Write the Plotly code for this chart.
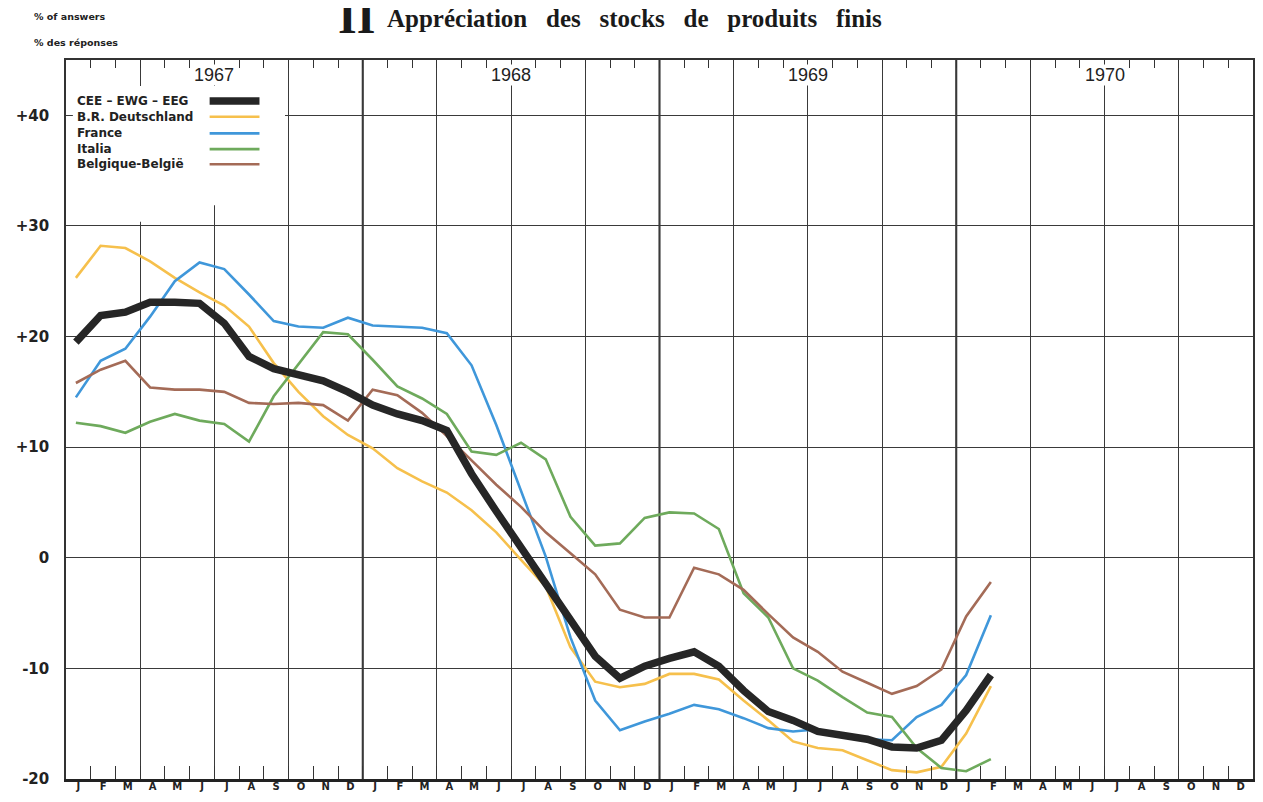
import plotly.graph_objects as go

# ---------------- data (monthly, Jan 1967 .. Feb 1970) ----------------
month_letters = ['J', 'F', 'M', 'A', 'M', 'J', 'J', 'A', 'S', 'O', 'N', 'D'] * 4
year_labels = ['1967', '1968', '1969', '1970']
y_ticks = [-20, -10, 0, 10, 20, 30, 40]
y_tick_labels = ['-20', '-10', '0', '+10', '+20', '+30', '+40']

cee = [19.5, 21.9, 22.2, 23.1, 23.1, 23.0, 21.2, 18.2, 17.1, 16.5, 16.0, 15.0,
       13.8, 13.0, 12.4, 11.5, 7.6, 4.2, 0.9, -2.5, -5.7, -8.9, -10.9, -9.8,
       -9.1, -8.5, -9.8, -12.0, -13.9, -14.7, -15.7, -16.1, -16.4, -17.1, -17.2, -16.5,
       -13.8, -10.6]
deu = [25.3, 28.2, 28.0, 26.8, 25.3, 24.0, 22.8, 20.9, 17.6, 15.0, 12.8, 11.1,
       9.9, 8.1, 6.9, 5.9, 4.3, 2.3, -0.2, -2.6, -8.1, -11.2, -11.7, -11.4,
       -10.5, -10.5, -11.0, -12.9, -14.7, -16.6, -17.2, -17.4, -18.3, -19.2, -19.4, -18.9,
       -15.9, -11.6]
fra = [14.5, 17.8, 18.9, 21.8, 25.0, 26.7, 26.1, 23.8, 21.4, 20.9, 20.8, 21.7,
       21.0, 20.9, 20.8, 20.3, 17.4, 12.0, 6.1, 0.1, -7.2, -12.9, -15.6, -14.8,
       -14.1, -13.3, -13.7, -14.5, -15.4, -15.7, -15.5, -16.1, -16.4, -16.5, -14.4, -13.3,
       -10.6, -5.2]
ita = [12.2, 11.9, 11.3, 12.3, 13.0, 12.4, 12.1, 10.5, 14.6, 17.5, 20.4, 20.2,
       17.9, 15.5, 14.4, 13.0, 9.6, 9.3, 10.4, 8.9, 3.7, 1.1, 1.3, 3.6,
       4.1, 4.0, 2.6, -3.2, -5.4, -10.0, -11.1, -12.6, -14.0, -14.4, -17.2, -19.0,
       -19.3, -18.2]
bel = [15.8, 17.0, 17.8, 15.4, 15.2, 15.2, 15.0, 14.0, 13.9, 14.0, 13.8, 12.4,
       15.2, 14.7, 13.1, 11.0, 8.8, 6.6, 4.6, 2.3, 0.4, -1.5, -4.7, -5.4,
       -5.4, -0.9, -1.5, -2.9, -5.1, -7.2, -8.5, -10.3, -11.3, -12.3, -11.6, -10.1,
       -5.3, -2.2]

names = ['CEE – EWG – EEG', 'B.R. Deutschland', 'France', 'Italia', 'Belgique-België']
colors = ['#262626', '#f6c04c', '#3f97da', '#6eaa5c', '#a46b57']
widths = [7.5, 2.6, 2.6, 2.6, 2.6]
values = [cee, deu, fra, ita, bel]

x = [i + 0.4 for i in range(len(cee))]

fig = go.Figure()
# coloured country lines first, EEC aggregate on top
for idx in [1, 2, 3, 4, 0]:
    fig.add_trace(go.Scatter(x=x, y=values[idx], mode='lines', name=names[idx],
                             line=dict(color=colors[idx], width=widths[idx]),
                             showlegend=False, hoverinfo='skip'))
# empty traces to activate overlay axes (ticks / grid)
for ax in ['x2', 'x3', 'x4']:
    fig.add_trace(go.Scatter(x=[], y=[], xaxis=ax, showlegend=False, hoverinfo='skip'))

grid_col = '#3a3a3a'
lab_font = 'DejaVu Sans, Verdana, sans-serif'
year_font = 'Liberation Sans, Arial, sans-serif'
serif = 'Liberation Serif, Times New Roman, serif'

fig.update_layout(
    width=1255, height=794,
    margin=dict(l=49, r=8, t=52, b=23),
    paper_bgcolor='white', plot_bgcolor='white',
    xaxis=dict(range=[0, 48], tickmode='array',
               tickvals=[i + 0.5 for i in range(48)], ticktext=month_letters,
               ticks='', showgrid=False, zeroline=False, showline=False,
               tickfont=dict(family=lab_font, size=10, color='#222', weight='bold'),
               fixedrange=True),
    # quarter grid + top frame
    xaxis2=dict(overlaying='x', side='top', range=[0, 48], tickmode='linear',
                tick0=0, dtick=3, showgrid=True, gridcolor=grid_col, gridwidth=1,
                ticks='', showticklabels=False, showline=True, linecolor='#333',
                linewidth=1.5, zeroline=False),
    # bottom month ticks + thick base line
    xaxis3=dict(overlaying='x', side='bottom', range=[0, 48], tickmode='linear',
                tick0=0, dtick=1, ticks='inside', ticklen=13, tickcolor='#333',
                showticklabels=False, showgrid=False, showline=True,
                linecolor='#222', linewidth=3, zeroline=False),
    # top month ticks
    xaxis4=dict(overlaying='x', side='top', range=[0, 48], tickmode='linear',
                tick0=0, dtick=1, ticks='inside', ticklen=8, tickcolor='#333',
                showticklabels=False, showgrid=False, showline=False,
                zeroline=False),
    yaxis=dict(range=[-20, 45], tickmode='array', tickvals=y_ticks,
               ticktext=y_tick_labels, showgrid=True, gridcolor=grid_col,
               gridwidth=1, zeroline=False, showline=True, linecolor='#333',
               linewidth=1.5, mirror=True, ticks='', ticklabelstandoff=12,
               tickfont=dict(family=lab_font, size=15, color='#222', weight='bold')),
)

# thicker year-boundary lines
for yb in [12, 24, 36]:
    fig.add_shape(type='line', xref='x', yref='paper', x0=yb, x1=yb, y0=0, y1=1,
                  line=dict(color='#222', width=2), layer='below')

# white legend panel
fig.add_shape(type='rect', xref='paper', yref='paper', x0=0.0058, x1=0.1845,
              y0=0.798, y1=0.964, fillcolor='white', line=dict(width=0), layer='above')
fig.add_shape(type='rect', xref='paper', yref='paper', x0=0.0058, x1=0.111,
              y0=0.775, y1=0.80, fillcolor='white', line=dict(width=0), layer='above')

leg_y = [0.943, 0.921, 0.898, 0.876, 0.855]
for i in range(5):
    fig.add_annotation(text='<b>' + names[i] + '</b>', xref='paper', yref='paper',
                       x=0.008, y=leg_y[i], xanchor='left', yanchor='middle',
                       showarrow=False,
                       font=dict(family=lab_font, size=12, color='#222'))
    fig.add_shape(type='line', xref='paper', yref='paper', x0=0.121, x1=0.163,
                  y0=leg_y[i], y1=leg_y[i],
                  line=dict(color=colors[i], width=widths[i]), layer='above')

# year labels on the top
for j, yl in enumerate(year_labels):
    fig.add_annotation(text=yl, xref='x', yref='paper', x=6 + 12 * j, y=0.979,
                       xanchor='center', yanchor='middle', showarrow=False,
                       bgcolor='white', borderpad=0,
                       font=dict(family=year_font, size=18, color='#222'))

# header texts
fig.add_annotation(text='<b>% of answers</b>', xref='paper', yref='paper',
                   x=-0.029, y=1.061, xanchor='left', yanchor='middle',
                   showarrow=False, font=dict(family=lab_font, size=9.5, color='#222'))
fig.add_annotation(text='<b>% des réponses</b>', xref='paper', yref='paper',
                   x=-0.029, y=1.025, xanchor='left', yanchor='middle',
                   showarrow=False, font=dict(family=lab_font, size=9.5, color='#222'))
fig.add_annotation(text='<b>II</b>', xref='paper', yref='paper',
                   x=0.2446, y=1.061, xanchor='center', yanchor='middle',
                   showarrow=False,
                   font=dict(family=serif, size=48, color='#1a1a1a'))
gap = '\u00a0\u00a0\u00a0'
title = gap.join(['Appréciation', 'des', 'stocks', 'de', 'produits', 'finis'])
fig.add_annotation(text='<b>' + title + '</b>',
                   xref='paper', yref='paper', x=0.2688, y=1.058,
                   xanchor='left', yanchor='middle', showarrow=False,
                   font=dict(family=serif, size=25, color='#1a1a1a'))

fig.write_html('out.html')
